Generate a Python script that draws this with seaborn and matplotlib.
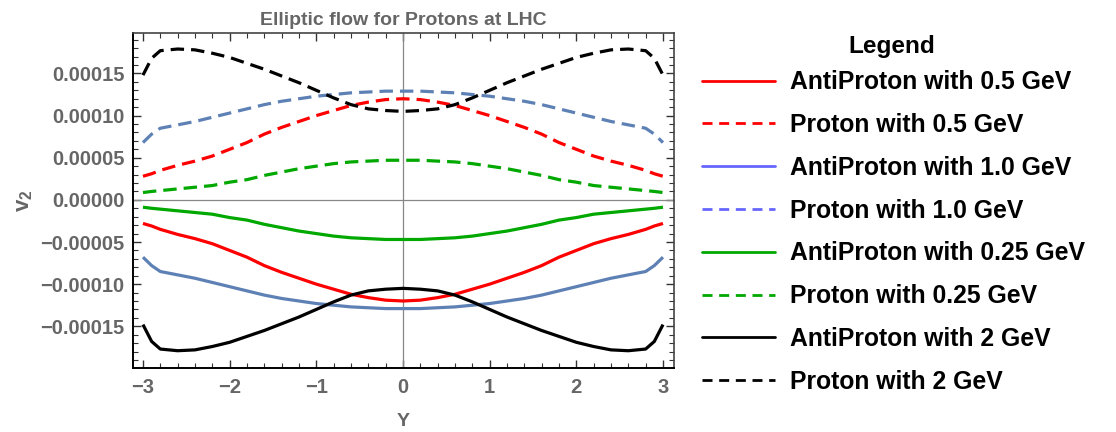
import numpy as np
import pandas as pd
import matplotlib
matplotlib.use("Agg")
import matplotlib.pyplot as plt
import seaborn as sns
from matplotlib.lines import Line2D
from matplotlib.ticker import MultipleLocator, FixedLocator

# ---------------- data ----------------
Y = [-3.0, -2.9, -2.8, -2.6, -2.4, -2.2, -2.0, -1.8, -1.6, -1.4, -1.2, -1.0, -0.8, -0.6, -0.4, -0.2,
     0.0, 0.2, 0.4, 0.6, 0.8, 1.0, 1.2, 1.4, 1.6, 1.8, 2.0, 2.2, 2.4, 2.6, 2.8, 2.9, 3.0]

proton_05 = [2.8e-5, 3.1e-5, 3.5e-5, 4.1e-5, 4.6e-5, 5.2e-5, 6.0e-5, 6.8e-5, 7.8e-5, 8.6e-5, 9.3e-5,
             1.00e-4, 1.06e-4, 1.12e-4, 1.16e-4, 1.19e-4, 1.20e-4, 1.19e-4, 1.16e-4, 1.12e-4, 1.06e-4,
             1.00e-4, 9.3e-5, 8.6e-5, 7.8e-5, 6.8e-5, 6.0e-5, 5.2e-5, 4.6e-5, 4.1e-5, 3.5e-5, 3.1e-5, 2.8e-5]
antiproton_05 = [-2.8e-5, -3.1e-5, -3.5e-5, -4.1e-5, -4.6e-5, -5.2e-5, -6.0e-5, -6.8e-5, -7.8e-5, -8.6e-5, -9.3e-5,
                 -1.00e-4, -1.06e-4, -1.12e-4, -1.16e-4, -1.19e-4, -1.20e-4, -1.19e-4, -1.16e-4, -1.12e-4, -1.06e-4,
                 -1.00e-4, -9.3e-5, -8.6e-5, -7.8e-5, -6.8e-5, -6.0e-5, -5.2e-5, -4.6e-5, -4.1e-5, -3.5e-5, -3.1e-5, -2.8e-5]

proton_10 = [6.8e-5, 7.8e-5, 8.5e-5, 8.9e-5, 9.3e-5, 9.8e-5, 1.03e-4, 1.08e-4, 1.13e-4, 1.17e-4, 1.20e-4,
             1.23e-4, 1.25e-4, 1.27e-4, 1.28e-4, 1.29e-4, 1.29e-4, 1.29e-4, 1.28e-4, 1.27e-4, 1.25e-4,
             1.23e-4, 1.20e-4, 1.17e-4, 1.13e-4, 1.08e-4, 1.03e-4, 9.8e-5, 9.3e-5, 8.9e-5, 8.5e-5, 7.8e-5, 6.8e-5]
antiproton_10 = [-6.8e-5, -7.8e-5, -8.5e-5, -8.9e-5, -9.3e-5, -9.8e-5, -1.03e-4, -1.08e-4, -1.13e-4, -1.17e-4, -1.20e-4,
                 -1.23e-4, -1.25e-4, -1.27e-4, -1.28e-4, -1.29e-4, -1.29e-4, -1.29e-4, -1.28e-4, -1.27e-4, -1.25e-4,
                 -1.23e-4, -1.20e-4, -1.17e-4, -1.13e-4, -1.08e-4, -1.03e-4, -9.8e-5, -9.3e-5, -8.9e-5, -8.5e-5, -7.8e-5, -6.8e-5]

proton_025 = [8.7e-6, 1.0e-5, 1.1e-5, 1.3e-5, 1.5e-5, 1.7e-5, 2.1e-5, 2.4e-5, 2.9e-5, 3.3e-5, 3.7e-5,
              4.0e-5, 4.3e-5, 4.5e-5, 4.6e-5, 4.7e-5, 4.7e-5, 4.7e-5, 4.6e-5, 4.5e-5, 4.3e-5,
              4.0e-5, 3.7e-5, 3.3e-5, 2.9e-5, 2.4e-5, 2.1e-5, 1.7e-5, 1.5e-5, 1.3e-5, 1.1e-5, 1.0e-5, 8.7e-6]
antiproton_025 = [-8.7e-6, -1.0e-5, -1.1e-5, -1.3e-5, -1.5e-5, -1.7e-5, -2.1e-5, -2.4e-5, -2.9e-5, -3.3e-5, -3.7e-5,
                  -4.0e-5, -4.3e-5, -4.5e-5, -4.6e-5, -4.7e-5, -4.7e-5, -4.7e-5, -4.6e-5, -4.5e-5, -4.3e-5,
                  -4.0e-5, -3.7e-5, -3.3e-5, -2.9e-5, -2.4e-5, -2.1e-5, -1.7e-5, -1.5e-5, -1.3e-5, -1.1e-5, -1.0e-5, -8.7e-6]

proton_2 = [1.48e-4, 1.68e-4, 1.77e-4, 1.79e-4, 1.78e-4, 1.74e-4, 1.69e-4, 1.62e-4, 1.55e-4, 1.47e-4, 1.39e-4,
            1.30e-4, 1.21e-4, 1.13e-4, 1.08e-4, 1.06e-4, 1.05e-4, 1.06e-4, 1.08e-4, 1.13e-4, 1.21e-4,
            1.30e-4, 1.39e-4, 1.47e-4, 1.55e-4, 1.62e-4, 1.69e-4, 1.74e-4, 1.78e-4, 1.79e-4, 1.77e-4, 1.68e-4, 1.48e-4]
antiproton_2 = [-1.48e-4, -1.68e-4, -1.77e-4, -1.79e-4, -1.78e-4, -1.74e-4, -1.69e-4, -1.62e-4, -1.55e-4, -1.47e-4, -1.39e-4,
                -1.30e-4, -1.21e-4, -1.13e-4, -1.08e-4, -1.06e-4, -1.05e-4, -1.06e-4, -1.08e-4, -1.13e-4, -1.21e-4,
                -1.30e-4, -1.39e-4, -1.47e-4, -1.55e-4, -1.62e-4, -1.69e-4, -1.74e-4, -1.78e-4, -1.79e-4, -1.77e-4, -1.68e-4, -1.48e-4]

legend_labels = ["AntiProton with 0.5 GeV", "Proton with 0.5 GeV",
                 "AntiProton with 1.0 GeV", "Proton with 1.0 GeV",
                 "AntiProton with 0.25 GeV", "Proton with 0.25 GeV",
                 "AntiProton with 2 GeV", "Proton with 2 GeV"]
x_ticks = [-3, -2, -1, 0, 1, 2, 3]
y_ticks = [-0.00015, -0.0001, -0.00005, 0.0, 0.00005, 0.0001, 0.00015]

# ---------------- style ----------------
sns.set_theme(style="ticks")
plt.rcParams['font.family'] = ['Liberation Sans', 'DejaVu Sans']
plt.rcParams['font.weight'] = 'bold'
plt.rcParams['mathtext.fontset'] = 'custom'
plt.rcParams['mathtext.rm'] = 'Liberation Sans:bold'
plt.rcParams['mathtext.it'] = 'Liberation Sans:bold'
plt.rcParams['mathtext.bf'] = 'Liberation Sans:bold'

GRAY = '#666666'
RED = '#FF0000'
BLUE_PLOT = '#5E81B5'
GREEN = '#00A800'
BLACK = '#000000'

fig = plt.figure(figsize=(11.16, 4.32), dpi=100)
ax = fig.add_axes([133 / 1116, 1 - 368 / 432, (674 - 133) / 1116, (368 - 33) / 432])

# axes lines through origin
ax.axhline(0, color='#888888', lw=0.9, zorder=1)
ax.axvline(0, color='#888888', lw=0.9, zorder=1)

series = [
    (antiproton_05, RED, '-'), (proton_05, RED, '--'),
    (antiproton_10, BLUE_PLOT, '-'), (proton_10, BLUE_PLOT, '--'),
    (antiproton_025, GREEN, '-'), (proton_025, GREEN, '--'),
    (antiproton_2, BLACK, '-'), (proton_2, BLACK, '--'),
]
for vals, col, ls in series:
    df = pd.DataFrame({'Y': Y, 'v2': vals})
    line_ax = sns.lineplot(data=df, x='Y', y='v2', ax=ax, color=col, lw=2.3, legend=False, zorder=3)
    ln = line_ax.get_lines()[-1]
    if ls == '--':
        ln.set_dashes([4.2, 2.2])
    ln.set_solid_capstyle('butt')
    ln.set_solid_joinstyle('round')

ax.set_xlim(-3.115, 3.127)
ax.set_ylim(-0.0001995, 0.000198)

ax.xaxis.set_major_locator(FixedLocator(x_ticks))
ax.xaxis.set_minor_locator(MultipleLocator(0.2))
ax.yaxis.set_major_locator(FixedLocator(y_ticks))
ax.yaxis.set_minor_locator(MultipleLocator(0.00001))

def fmt_num(v, dec):
    s = f"{abs(v):.{dec}f}"
    return ("\u2212" + s) if v < 0 else s

ax.set_xticklabels([fmt_num(v, 0) for v in x_ticks])
ax.set_yticklabels([fmt_num(v, 5) for v in y_ticks])

ax.tick_params(which='both', direction='in', top=True, right=True, colors='#333333',
               labelcolor=GRAY, labelsize=14.5)
ax.tick_params(which='major', length=6, width=1.0)
ax.tick_params(which='minor', length=3.5, width=0.8)
ax.tick_params(axis='x', pad=7)
ax.tick_params(axis='y', pad=6)
for lab in ax.get_xticklabels() + ax.get_yticklabels():
    lab.set_fontweight('bold')

for side in ['left', 'bottom']:
    ax.spines[side].set_color('#000000')
    ax.spines[side].set_linewidth(1.4)
for side in ['top', 'right']:
    ax.spines[side].set_color('#444444')
    ax.spines[side].set_linewidth(1.2)

ax.set_xlabel('Y', color=GRAY, fontsize=14, fontweight='bold', labelpad=12)
ax.set_ylabel(r'$\mathbf{v_2}$', color=GRAY, fontsize=16, labelpad=4)
ax.set_title('Elliptic flow for Protons at LHC', color=GRAY, fontsize=14, fontweight='bold', pad=6)

# legend
leg_colors = [RED, RED, '#6666FF', '#6666FF', GREEN, GREEN, BLACK, BLACK]
leg_styles = ['-', '--', '-', '--', '-', '--', '-', '--']
handles = []
for c, s in zip(leg_colors, leg_styles):
    h = Line2D([0], [0], color=c, lw=2.0, linestyle=s)
    if s == '--':
        h.set_dashes([3.6, 2.4])
    handles.append(h)
leg = fig.legend(handles, legend_labels, loc='upper left', bbox_to_anchor=(680 / 1116, 1 - 48 / 432),
                 frameon=False, handlelength=2.95, handletextpad=0.6,
                 labelspacing=0.76, prop={'weight': 'bold', 'size': 17.8})
for t in leg.get_texts():
    t.set_color('#000000')
fig.text(892 / 1116, 1 - 46 / 432, 'Legend', ha='center', va='center', fontsize=17.6,
         fontweight='bold', color='#000000')

fig.savefig('out.png', dpi=100)
